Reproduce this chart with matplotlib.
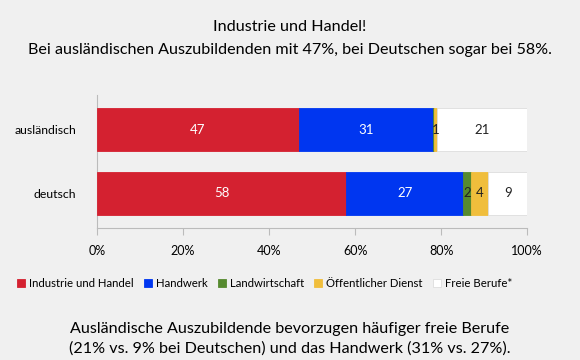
import matplotlib.pyplot as plt
import numpy as np

plt.rcParams['font.family'] = ['Lato', 'DejaVu Sans']

# data (percent)
groups = ['ausländisch', 'deutsch']
series = ['Industrie und Handel', 'Handwerk', 'Landwirtschaft',
          'Öffentlicher Dienst', 'Freie Berufe*']
values = [
    [47, 58],   # Industrie und Handel
    [31, 27],   # Handwerk
    [0.3, 2],   # Landwirtschaft
    [0.7, 4],   # Öffentlicher Dienst
    [21, 9],    # Freie Berufe*
]
labels = [
    ['47', '58'],
    ['31', '27'],
    ['', '2'],
    ['1', '4'],
    ['21', '9'],
]
colors = ['#d42130', '#0036f0', '#568a2f', '#f0be3c', '#ffffff']
text_colors = ['white', 'white', '#222222', '#222222', '#222222']

bg = '#f0f0f0'
fig = plt.figure(figsize=(5.8, 3.6), dpi=100, facecolor=bg)
ax = fig.add_axes([0.167, 0.367, 0.742, 0.369], facecolor=bg)

y = np.array([1, 0])
left = np.zeros(2)
for i, s in enumerate(series):
    v = np.array(values[i])
    ax.barh(y, v, left=left, height=0.68, color=colors[i],
            edgecolor='#dddddd' if colors[i] == '#ffffff' else colors[i],
            linewidth=0.6, label=s, zorder=3)
    for j in range(2):
        if labels[i][j]:
            ax.text(left[j] + v[j] / 2, y[j], labels[i][j], ha='center',
                    va='center', fontsize=9.5, color=text_colors[i], zorder=4)
    left += v

ax.set_xlim(0, 100)
ax.set_ylim(-0.55, 1.55)
ax.set_xticks(np.arange(0, 101, 20))
ax.set_xticklabels([f'{t}%' for t in range(0, 101, 20)], fontsize=9)
ax.set_yticks(y)
ax.set_yticklabels(groups, fontsize=8.8)
ax.tick_params(axis='y', length=0, pad=15)
ax.tick_params(axis='x', length=5, color='#bbbbbb', direction='out', pad=7)
for side in ['top', 'right']:
    ax.spines[side].set_visible(False)
for side in ['left', 'bottom']:
    ax.spines[side].set_color('#bbbbbb')

ax.legend(loc='upper center', bbox_to_anchor=(0.39, -0.3), ncol=5,
          frameon=False, fontsize=8.2, handlelength=0.7, handleheight=0.7,
          handletextpad=0.35, columnspacing=0.9)

fig.text(0.5, 0.925, 'Industrie und Handel!', ha='center', va='center', fontsize=11.6)
fig.text(0.5, 0.862, 'Bei ausländischen Auszubildenden mit 47%, bei Deutschen sogar bei 58%.',
         ha='center', va='center', fontsize=11.6)
fig.text(0.5, 0.058, 'Ausländische Auszubildende bevorzugen häufiger freie Berufe\n'
         '(21% vs. 9% bei Deutschen) und das Handwerk (31% vs. 27%).',
         ha='center', va='center', fontsize=11.6, linespacing=1.45)

fig.savefig('out.png', dpi=100, facecolor=bg)
